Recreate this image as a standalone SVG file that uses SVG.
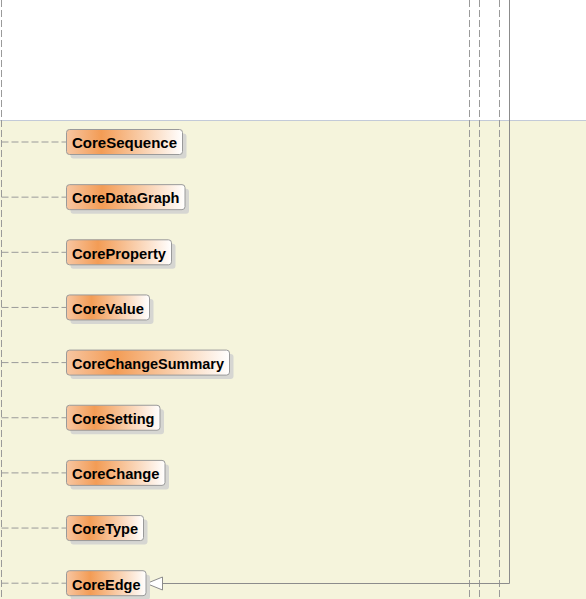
<svg xmlns="http://www.w3.org/2000/svg" width="586" height="599" viewBox="0 0 586 599">
<style>
.shadow{fill:#d6d6d2}
.box{fill:url(#g);stroke:#9a9a9a;stroke-width:1}
.lbl{font-family:"Liberation Sans",Arial,sans-serif;font-weight:bold;font-size:14px;fill:#000}
.dash{fill:none;stroke:#9a9a9a;stroke-width:1;stroke-dasharray:7,3}
.solid{fill:none;stroke:#8c8c8c;stroke-width:1}
.head{fill:#ffffff;stroke:#8c8c8c;stroke-width:1}
</style>
<defs>
<linearGradient id="g" x1="0" y1="0" x2="1" y2="0">
<stop offset="0" stop-color="#f7c6a2"/>
<stop offset="0.3" stop-color="#f39c55"/>
<stop offset="1" stop-color="#ffffff"/>
</linearGradient>
</defs>
<rect x="0" y="0" width="586" height="599" fill="#ffffff"/>
<rect x="0" y="120.5" width="586" height="479" fill="#f5f4dc"/>
<line x1="0" y1="120.5" x2="586" y2="120.5" stroke="#c3cad8" stroke-width="1"/>
<g id="connectors">
<line class="dash" x1="1.5" y1="0" x2="1.5" y2="599"/>
<line class="dash" x1="469.5" y1="0" x2="469.5" y2="599"/>
<line class="dash" x1="479.5" y1="0" x2="479.5" y2="599"/>
<line class="dash" x1="499.5" y1="0" x2="499.5" y2="599"/>
<path class="solid" d="M509.5,0 L509.5,583.5 L162.5,583.5"/>
<path class="head" d="M162.5,577 L146.5,583.5 L162.5,590 Z"/>
<line class="dash" x1="1.5" y1="142" x2="66.5" y2="142"/>
<line class="dash" x1="1.5" y1="197.15" x2="66.5" y2="197.15"/>
<line class="dash" x1="1.5" y1="252.3" x2="66.5" y2="252.3"/>
<line class="dash" x1="1.5" y1="307.45" x2="66.5" y2="307.45"/>
<line class="dash" x1="1.5" y1="362.6" x2="66.5" y2="362.6"/>
<line class="dash" x1="1.5" y1="417.75" x2="66.5" y2="417.75"/>
<line class="dash" x1="1.5" y1="472.9" x2="66.5" y2="472.9"/>
<line class="dash" x1="1.5" y1="528.05" x2="66.5" y2="528.05"/>
<line class="dash" x1="1.5" y1="583.2" x2="66.5" y2="583.2"/>
</g>
<g id="CoreSequence">
<rect class="shadow" x="70.5" y="133.5" width="116" height="25" rx="3"/>
<rect class="box" x="66.5" y="129.5" width="116" height="25" rx="3"/>
<text class="lbl" x="72" y="148.3" textLength="105" lengthAdjust="spacingAndGlyphs">CoreSequence</text>
</g>
<g id="CoreDataGraph">
<rect class="shadow" x="70.5" y="188.65" width="118.5" height="25" rx="3"/>
<rect class="box" x="66.5" y="184.65" width="118.5" height="25" rx="3"/>
<text class="lbl" x="72" y="203.45" textLength="107.5" lengthAdjust="spacingAndGlyphs">CoreDataGraph</text>
</g>
<g id="CoreProperty">
<rect class="shadow" x="70.5" y="243.8" width="105" height="25" rx="3"/>
<rect class="box" x="66.5" y="239.8" width="105" height="25" rx="3"/>
<text class="lbl" x="72" y="258.6" textLength="94" lengthAdjust="spacingAndGlyphs">CoreProperty</text>
</g>
<g id="CoreValue">
<rect class="shadow" x="70.5" y="298.95" width="83" height="25" rx="3"/>
<rect class="box" x="66.5" y="294.95" width="83" height="25" rx="3"/>
<text class="lbl" x="72" y="313.75" textLength="72" lengthAdjust="spacingAndGlyphs">CoreValue</text>
</g>
<g id="CoreChangeSummary">
<rect class="shadow" x="70.5" y="354.1" width="163" height="25" rx="3"/>
<rect class="box" x="66.5" y="350.1" width="163" height="25" rx="3"/>
<text class="lbl" x="72" y="368.9" textLength="152" lengthAdjust="spacingAndGlyphs">CoreChangeSummary</text>
</g>
<g id="CoreSetting">
<rect class="shadow" x="70.5" y="409.25" width="93.5" height="25" rx="3"/>
<rect class="box" x="66.5" y="405.25" width="93.5" height="25" rx="3"/>
<text class="lbl" x="72" y="424.05" textLength="82.5" lengthAdjust="spacingAndGlyphs">CoreSetting</text>
</g>
<g id="CoreChange">
<rect class="shadow" x="70.5" y="464.4" width="98.5" height="25" rx="3"/>
<rect class="box" x="66.5" y="460.4" width="98.5" height="25" rx="3"/>
<text class="lbl" x="72" y="479.2" textLength="87.5" lengthAdjust="spacingAndGlyphs">CoreChange</text>
</g>
<g id="CoreType">
<rect class="shadow" x="70.5" y="519.55" width="77" height="25" rx="3"/>
<rect class="box" x="66.5" y="515.55" width="77" height="25" rx="3"/>
<text class="lbl" x="72" y="534.35" textLength="66" lengthAdjust="spacingAndGlyphs">CoreType</text>
</g>
<g id="CoreEdge">
<rect class="shadow" x="70.5" y="574.7" width="79.5" height="25" rx="3"/>
<rect class="box" x="66.5" y="570.7" width="79.5" height="25" rx="3"/>
<text class="lbl" x="72" y="589.5" textLength="68.5" lengthAdjust="spacingAndGlyphs">CoreEdge</text>
</g>
</svg>
